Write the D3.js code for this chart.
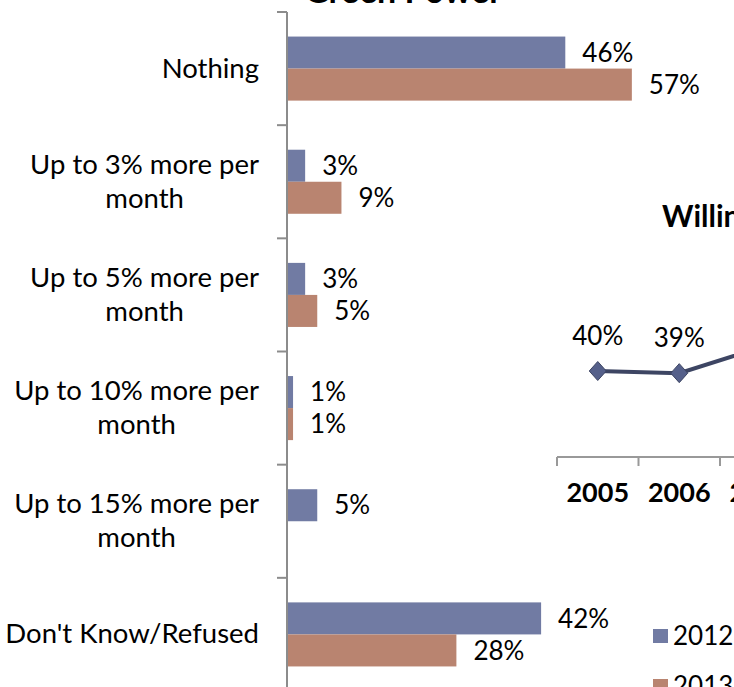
<!DOCTYPE html>
<html>
<head>
<meta charset="utf-8">
<script src="https://cdn.jsdelivr.net/npm/d3@7"></script>
<style>
  html, body { margin: 0; padding: 0; background: #fff; overflow: hidden; }
  svg { display: block; font-family: Lato, "Open Sans", sans-serif; }
</style>
</head>
<body>
<svg id="chart" width="734" height="687"></svg>
<script>
// Bar chart: willingness to pay more per month for green power
const categories = [
  "Nothing",
  "Up to 3% more per month",
  "Up to 5% more per month",
  "Up to 10% more per month",
  "Up to 15% more per month",
  "Don't Know/Refused"
];
const seriesNames = ["2012", "2013"];
const values2012 = [46, 3, 3, 1, 5, 42];
const values2013 = [57, 9, 5, 1, 0, 28];
const seriesColors = ["#717ba3", "#b98470"];

// Trend line panel
const years = ["2005", "2006", "2007"];
const trendValues = [40, 39, 51];

const barTitle = "Green Power";
const lineTitle = "Willingness to Pay More";

const svg = d3.select("#chart");
const FS = 26;
const CAT_FS = 27.5;

// ---------- bar chart ----------
const x = d3.scaleLinear().domain([0, 100]).range([287, 892]);
const y0 = d3.scaleBand().domain(categories).range([12, 691])
  .paddingInner(0.434).paddingOuter(0.217);
const y1 = d3.scaleBand().domain(seriesNames).range([0, y0.bandwidth()]);

// top title (mostly above the visible area)
svg.append("text")
  .attr("x", 403).attr("y", 3)
  .attr("text-anchor", "middle")
  .attr("font-weight", "bold").attr("font-size", 34)
  .text(barTitle);

const rows = categories.map((c, i) => ({ cat: c, vals: [values2012[i], values2013[i]] }));

const groups = svg.append("g").selectAll("g").data(rows).join("g")
  .attr("transform", d => `translate(0,${y0(d.cat)})`);

groups.selectAll("rect")
  .data(d => d.vals.map((v, k) => ({ v, k })).filter(e => e.v > 0))
  .join("rect")
  .attr("x", x(0))
  .attr("y", e => y1(seriesNames[e.k]))
  .attr("width", e => x(e.v) - x(0))
  .attr("height", y1.bandwidth())
  .attr("fill", e => seriesColors[e.k]);

groups.selectAll("text.val")
  .data(d => d.vals.map((v, k) => ({ v, k })).filter(e => e.v > 0))
  .join("text")
  .attr("class", "val")
  .attr("x", e => x(e.v) + 17)
  .attr("y", e => y1(seriesNames[e.k]) + y1.bandwidth() / 2)
  .attr("dy", "0.35em")
  .attr("font-size", FS)
  .attr("fill", "#000")
  .text(e => e.v + "%");

// category axis
const axisG = svg.append("g").attr("transform", `translate(${x(0)},0)`);
axisG.append("line")
  .attr("x1", 0).attr("x2", 0).attr("y1", 12).attr("y2", 700)
  .attr("stroke", "#8c8c8c").attr("stroke-width", 2);
const step = y0.step();
const boundaries = d3.range(categories.length + 1).map(i => 12 + i * step);
axisG.selectAll("line.tick").data(boundaries).join("line")
  .attr("class", "tick")
  .attr("x1", -10).attr("x2", 0)
  .attr("y1", d => d).attr("y2", d => d)
  .attr("stroke", "#8c8c8c").attr("stroke-width", 2);

// category labels: wrapped, lines centered inside a right-aligned block
const labelRight = 259, lineH = 34, maxW = 272;
const measure = svg.append("text").attr("font-size", CAT_FS).attr("visibility", "hidden");
function textW(s) { measure.text(s); return measure.node().getComputedTextLength(); }
categories.forEach(c => {
  const words = c.split(" ");
  const lines = [];
  let cur = "";
  words.forEach(w => {
    const t = cur ? cur + " " + w : w;
    if (cur && textW(t) > maxW) { lines.push(cur); cur = w; } else cur = t;
  });
  lines.push(cur);
  const blockW = d3.max(lines, textW);
  const cx = labelRight - blockW / 2;
  const cy = y0(c) + y0.bandwidth() / 2;
  const t = svg.append("text")
    .attr("font-size", CAT_FS).attr("text-anchor", "middle").attr("fill", "#000");
  lines.forEach((ln, i) => {
    t.append("tspan")
      .attr("x", cx)
      .attr("y", cy - (lines.length - 1) * lineH / 2 + i * lineH)
      .attr("dy", "0.33em")
      .text(ln);
  });
});
measure.remove();

// ---------- trend line panel ----------
const lx = d3.scaleBand().domain(years).range([557, 557 + 81.5 * years.length]);
const ly = d3.scaleLinear().domain([0, 100]).range([457, 242]);

svg.append("text")
  .attr("x", 662).attr("y", 227)
  .attr("font-weight", "bold").attr("font-size", 30)
  .text(lineTitle);

svg.append("line")
  .attr("x1", lx.range()[0]).attr("x2", lx.range()[1])
  .attr("y1", 457).attr("y2", 457)
  .attr("stroke", "#999").attr("stroke-width", 2);
const lticks = d3.range(years.length + 1).map(i => lx.range()[0] + i * lx.step());
svg.selectAll("line.ltick").data(lticks).join("line")
  .attr("class", "ltick")
  .attr("x1", d => d).attr("x2", d => d)
  .attr("y1", 457).attr("y2", 466)
  .attr("stroke", "#999").attr("stroke-width", 2);

svg.selectAll("text.year").data(years).join("text")
  .attr("class", "year")
  .attr("x", d => lx(d) + lx.bandwidth() / 2)
  .attr("y", 502)
  .attr("text-anchor", "middle")
  .attr("font-weight", "bold").attr("font-size", 27)
  .text(d => d);

const pts = years.map((yr, i) => ({ yr, v: trendValues[i] }));
svg.append("path")
  .datum(pts)
  .attr("fill", "none")
  .attr("stroke", "#3d4563").attr("stroke-width", 4)
  .attr("d", d3.line().x(d => lx(d.yr) + lx.bandwidth() / 2).y(d => ly(d.v)));

svg.selectAll("path.mk").data(pts).join("path")
  .attr("class", "mk")
  .attr("transform", d => `translate(${lx(d.yr) + lx.bandwidth() / 2},${ly(d.v)})`)
  .attr("d", "M0,-9.5L8.5,0L0,9.5L-8.5,0Z")
  .attr("fill", "#55608a").attr("stroke", "#3d4563").attr("stroke-width", 1);

svg.selectAll("text.pv").data(pts).join("text")
  .attr("class", "pv")
  .attr("x", d => lx(d.yr) + lx.bandwidth() / 2)
  .attr("y", d => ly(d.v) - 26)
  .attr("text-anchor", "middle")
  .attr("font-size", FS)
  .text(d => d.v + "%");

// legend
const legend = svg.append("g").attr("transform", "translate(653,629)");
seriesNames.forEach((s, i) => {
  const g = legend.append("g").attr("transform", `translate(0,${i * 50})`);
  g.append("rect").attr("width", 15).attr("height", 14).attr("fill", seriesColors[i]);
  g.append("text").attr("x", 20).attr("y", 7).attr("dy", "0.35em")
    .attr("font-size", FS).text(s);
});
</script>
</body>
</html>
